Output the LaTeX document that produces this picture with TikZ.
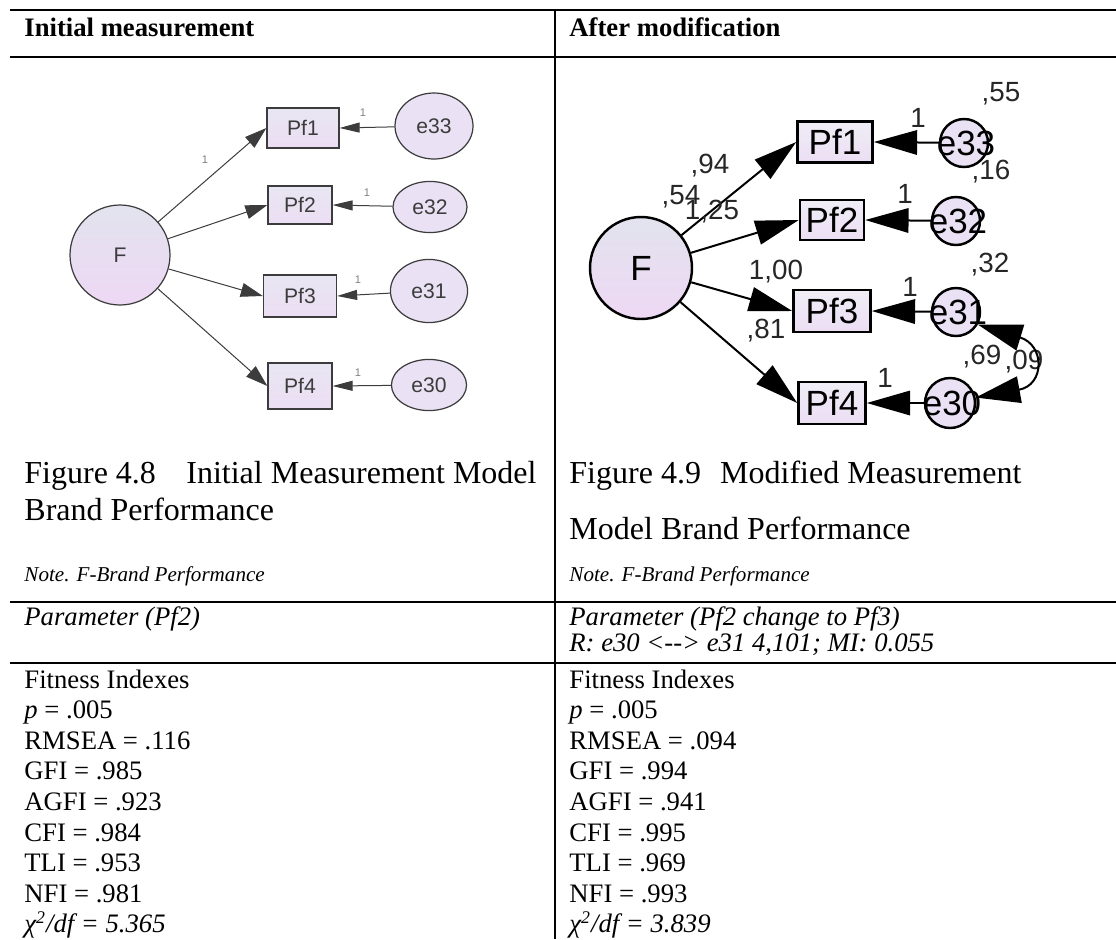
\documentclass[tikz,border=0pt]{standalone}
\usepackage{fontspec}
\setmainfont{Liberation Serif}
\newfontfamily\arialf{Liberation Sans}
\usetikzlibrary{arrows.meta,shapes.geometric}

\definecolor{lgray}{RGB}{60,60,60}
\definecolor{lavtop}{RGB}{226,227,238}
\definecolor{lavbot}{RGB}{238,216,244}
\definecolor{boxtop}{RGB}{232,230,242}
\definecolor{boxbot}{RGB}{236,222,244}
\definecolor{errfill}{RGB}{234,226,244}

\tikzset{
  rule/.style={line width=0.9pt},
  divider/.style={line width=0.7pt},
  body/.style={anchor=base west, inner sep=0pt, font=\fontsize{12}{14}\selectfont},
  capt/.style={anchor=base west, inner sep=0pt, font=\fontsize{14.4}{17}\selectfont},
  notetxt/.style={anchor=base west, inner sep=0pt, font=\itshape\fontsize{9.5}{11}\selectfont},
  % left (initial) path diagram
  lnode/.style={draw=lgray, line width=0.55pt, text=lgray, inner sep=0pt,
                font=\arialf\fontsize{9.5}{11}\selectfont},
  lobs/.style={lnode, rectangle, top color=boxtop, bottom color=boxbot},
  llat/.style={lnode, circle, top color=lavtop, bottom color=lavbot},
  lerrnode/.style={lnode, ellipse, fill=errfill},
  larr/.style={draw=lgray, line width=0.45pt, -{Triangle[length=9.9pt,width=6.3pt]}},
  lerr/.style={draw=lgray, line width=0.45pt, -{Triangle[length=9pt,width=4.5pt]}},
  lone/.style={text=gray, inner sep=0pt, font=\arialf\fontsize{5}{6}\selectfont},
  % right (modified) path diagram
  rnode/.style={draw=black, line width=1.1pt, inner sep=0pt,
                font=\arialf\fontsize{15.75}{18}\selectfont},
  robs/.style={rnode, rectangle, top color=boxtop!70!white, bottom color=boxbot},
  rlat/.style={rnode, circle, top color=lavtop, bottom color=lavbot},
  rerrnode/.style={rnode, circle, fill=errfill, minimum size=21.6pt},
  rtxt/.style={inner sep=0pt, font=\arialf\fontsize{15.75}{18}\selectfont},
  rarr/.style={line width=0.9pt, -{Triangle[length=19.5pt,width=11pt]}},
  rcov/.style={line width=0.9pt, {Triangle[length=20pt,width=12pt]}-{Triangle[length=20pt,width=12pt]}},
  rlab/.style={inner sep=0pt, text=black!85, font=\arialf\fontsize{12.5}{14}\selectfont},
}

\begin{document}
\begin{tikzpicture}[x=0.45pt,y=-0.45pt]
\useasboundingbox (0,0) rectangle (1116,939);

% ---- table rules ----
\draw[rule] (10,10) -- (1116,10);
\draw[rule] (10,57) -- (1116,57);
\draw[rule] (10,602) -- (1116,602);
\draw[rule] (10,663) -- (1116,663);
\draw[divider] (555,10) -- (555,939);

% ---- headers ----
\node[body] (hdL) at (24,36) {\textbf{Initial measurement}};
\node[body] (hdR) at (569,36) {\textbf{After modification}};

% ---- left diagram: initial measurement model ----
\node[llat, minimum size=45pt] (lF) at (120,255) {F};
\node[lobs, minimum width=32.4pt, minimum height=18pt]   (lP1) at (303,128) {Pf1};
\node[lobs, minimum width=28.8pt, minimum height=17.1pt] (lP2) at (300,205) {Pf2};
\node[lobs, minimum width=32.9pt, minimum height=18.9pt] (lP3) at (300,296) {Pf3};
\node[lobs, minimum width=28.8pt, minimum height=20.7pt] (lP4) at (300,386) {Pf4};
\node[lerrnode, minimum width=35.1pt, minimum height=29.7pt] (le33) at (434,126) {e33};
\node[lerrnode, minimum width=33.3pt, minimum height=23pt]   (le32) at (430,207) {e32};
\node[lerrnode, minimum width=34.7pt, minimum height=28.4pt] (le31) at (429,291) {e31};
\node[lerrnode, minimum width=33.8pt, minimum height=23pt]   (le30) at (429,385) {e30};

\draw[larr] (lF) -- (lP1.west);
\draw[larr] (lF) -- (lP2.west);
\draw[larr] (lF) -- (lP3.west);
\draw[larr] (lF) -- (lP4.west);
\draw[lerr] (le33) -- (lP1.east);
\draw[lerr] (le32) -- (lP2.east);
\draw[lerr] (le31) -- (lP3.east);
\draw[lerr] (le30) -- (lP4.east);

\node[lone] (l1a) at (205,160) {1};
\node[lone] (l1b) at (363,113) {1};
\node[lone] (l1c) at (367,193) {1};
\node[lone] (l1d) at (358,280) {1};
\node[lone] (l1e) at (358,373) {1};

% ---- right diagram: modified measurement model ----
\node[rlat, minimum size=45.9pt] (rF) at (641,268) {F};
\node[robs, minimum width=33.8pt, minimum height=18.5pt] (rP1) at (835,142) {Pf1};
\node[robs, minimum width=28.8pt, minimum height=18pt]   (rP2) at (832,220) {Pf2};
\node[robs, minimum width=34.7pt, minimum height=18.9pt] (rP3) at (832,311) {Pf3};
\node[robs, minimum width=30.2pt, minimum height=18.9pt] (rP4) at (832,403) {Pf4};
\node[rerrnode] (re33) at (964,143) {};
\node[rerrnode] (re32) at (956,221) {};
\node[rerrnode] (re31) at (956,312) {};
\node[rerrnode, minimum size=22.5pt] (re30) at (950,403) {};

\draw[rarr] (rF) -- (rP1.west);
\draw[rarr] (rF) -- (rP2.west);
\draw[rarr] (rF) -- (rP3.west);
\draw[rarr] (rF) -- (rP4.west);
\draw[rarr] (re33) -- (rP1.east);
\draw[rarr] (re32) -- (rP2.east);
\draw[rarr] (re31) -- (rP3.east);
\draw[rarr] (re30) -- (rP4.east);

\node[rtxt] (t33) at (966,143) {e33};
\node[rtxt] (t32) at (958,221) {e32};
\node[rtxt] (t31) at (958,312) {e31};
\node[rtxt] (t30) at (952,403) {e30};

\node[rlab] (w94)  at (710,166) {,94};
\node[rlab] (w54)  at (681,197) {,54};
\node[rlab] (w125) at (712,212) {1,25};
\node[rlab] (w100) at (776,272) {1,00};
\node[rlab] (w81)  at (766,331) {,81};
\node[rlab] (o1)   at (918,118) {1};
\node[rlab] (o2)   at (905,194) {1};
\node[rlab] (o3)   at (910,287) {1};
\node[rlab] (o4)   at (885,378) {1};
\node[rlab] (v55)  at (1001,94) {,55};
\node[rlab] (v16)  at (991,172) {,16};
\node[rlab] (v32)  at (990,265) {,32};
\node[rlab] (v69)  at (982,357) {,69};
\node[rlab] (c09)  at (1024,362) {,09};

\draw[rcov] (re31.-30) .. controls (1045,345) and (1045,385) .. (re30.12);

% ---- captions and notes ----
\node[capt] (capL1) at (24,483) {Figure 4.8\hspace{0.95em}Initial Measurement Model};
\node[capt] (capL2) at (24,520) {Brand Performance};
\node[capt] (capR1) at (569,483) {Figure 4.9\hspace{0.6em}Modified Measurement};
\node[capt] (capR2) at (569,539) {Model Brand Performance};
\node[notetxt] (noteL) at (24,581) {Note. F-Brand Performance};
\node[notetxt] (noteR) at (569,581) {Note. F-Brand Performance};

% ---- parameter rows ----
\node[body, font=\itshape\fontsize{12}{14}\selectfont] (parL) at (24,625) {Parameter (Pf2)};
\node[body, font=\itshape\fontsize{12}{14}\selectfont] (parR) at (569,625) {Parameter (Pf2 change to Pf3)};
\node[body, font=\itshape\fontsize{12}{14}\selectfont] (parR2) at (569,651) {R: e30 <{-}{-}> e31 4,101; MI: 0.055};

% ---- fitness indexes ----
\foreach \n/\tL/\tR [count=\k from 0] in {
  fit/{Fitness Indexes}/{Fitness Indexes},
  p/{\textit{p} = .005}/{\textit{p} = .005},
  rmsea/{RMSEA = .116}/{RMSEA = .094},
  gfi/{GFI = .985}/{GFI = .994},
  agfi/{AGFI = .923}/{AGFI = .941},
  cfi/{CFI = .984}/{CFI = .995},
  tli/{TLI = .953}/{TLI = .969},
  nfi/{NFI = .981}/{NFI = .993},
  chi/{\textit{χ\textsuperscript{2}/df = 5.365}}/{\textit{χ\textsuperscript{2}/df = 3.839}}}
{
  \node[body] (\n L) at (24,688+30.6*\k) {\tL};
  \node[body] (\n R) at (569,688+30.6*\k) {\tR};
}
\end{tikzpicture}
\end{document}
